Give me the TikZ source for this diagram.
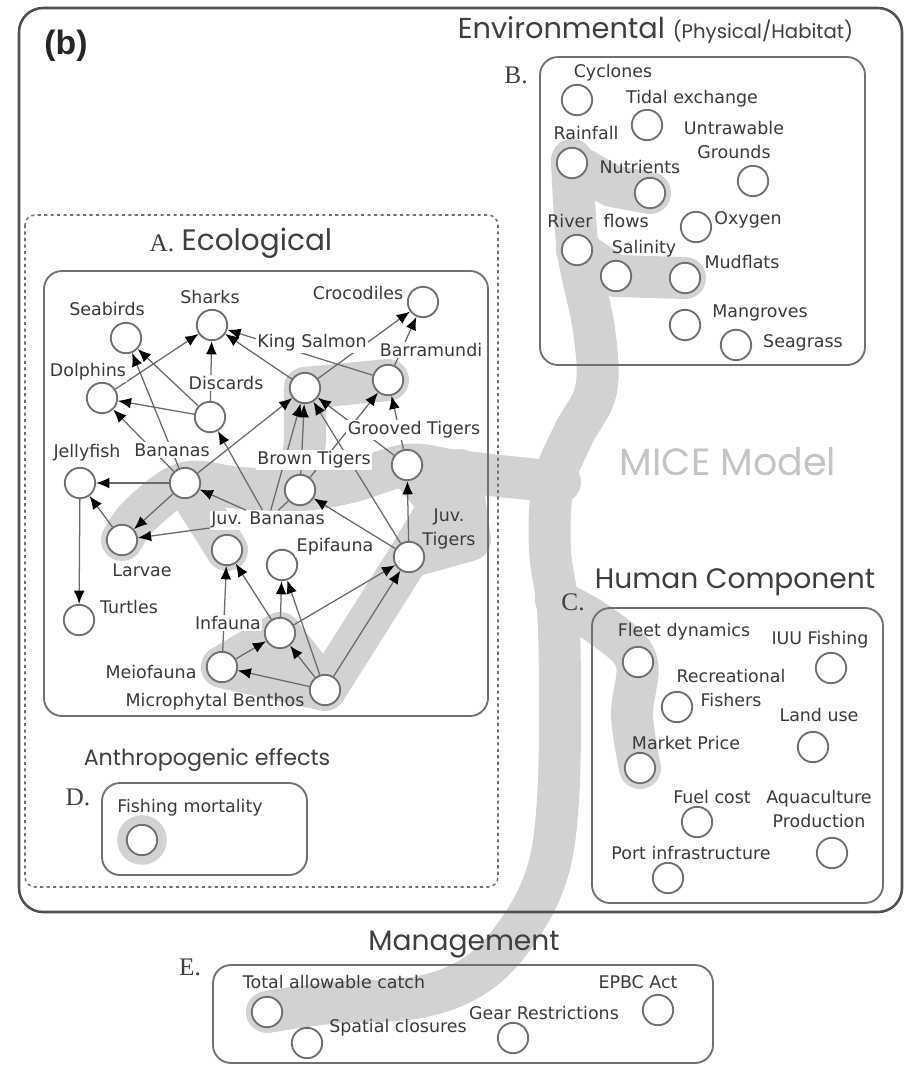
\documentclass[tikz,border=0pt]{standalone}
\usepackage{fontspec}
\setmainfont{DejaVu Sans}
\newfontfamily\headfont{Poppins}
\newfontfamily\letterfont{Liberation Serif}
\newfontfamily\panelfont{Liberation Sans}
\usetikzlibrary{arrows.meta}
\pgfdeclarelayer{band}
\pgfdeclarelayer{wires}
\pgfsetlayers{band,wires,main}
\definecolor{mcLine}{HTML}{707070}
\definecolor{mcFrame}{HTML}{505050}
\definecolor{mcEdge}{HTML}{6A6A6A}
\definecolor{mcBand}{HTML}{D2D2D2}
\definecolor{mcText}{HTML}{3A3A3A}
\definecolor{mcHead}{HTML}{3F3F3F}
\definecolor{mcGhost}{HTML}{C4C4C4}
\tikzset{
  sp/.style={circle, draw=mcLine, fill=white, line width=1.3pt, minimum size=0.76cm, inner sep=0pt},
  lab/.style={font=\fontsize{12.4}{17.5}\selectfont, text=mcText, inner sep=1pt, align=center},
  ecolab/.style={lab, fill=white},
  panel/.style={draw=mcLine, line width=1.3pt, rounded corners=0.45cm},
  head/.style={font=\headfont\fontsize{20}{22}\selectfont, text=mcHead},
  tagl/.style={font=\letterfont\fontsize{18}{20}\selectfont, text=mcHead},
  feed/.style={-{Latex[length=3.3mm,width=2.7mm,color=black]}, draw=mcEdge, line width=0.9pt},
  link/.style={draw=mcEdge, line width=0.9pt},
  band/.style={draw=mcBand, line width=1.05cm, line cap=round, line join=round}
}
\begin{document}
\begin{tikzpicture}[x=0.025cm, y=-0.025cm]
  \useasboundingbox (0,0) rectangle (908,1068);

  % frames
  \begin{pgfonlayer}{wires}
    \draw[draw=mcFrame, line width=1.8pt, rounded corners=0.6cm] (19,8) rectangle (902,912);
    \draw[draw=mcLine, line width=1.1pt, dash pattern=on 2.2pt off 2.4pt, rounded corners=0.25cm] (25,215) rectangle (498,887);
    \draw[panel] (44,271) rectangle (488,716);
    \draw[panel] (540,57) rectangle (865,365);
    \draw[panel] (592,608) rectangle (883,903);
    \draw[panel] (102,783) rectangle (307,875);
    \draw[panel] (213,965) rectangle (713,1063);
  \end{pgfonlayer}

  % headings
  \node[font=\panelfont\bfseries\fontsize{24}{26}\selectfont, text=black!85] (tagb) at (66,46) {(b)};
  \node[head, font=\headfont\fontsize{20.5}{22}\selectfont, anchor=east] (envT) at (858,30) {Environmental {\fontsize{14}{16}\selectfont (Physical/Habitat)}};
  \node[tagl] (tagB) at (516,75) {B.};
  \node[tagl] (tagA) at (162,243) {A.};
  \node[head, font=\headfont\fontsize{21}{23}\selectfont] (ecoT) at (257,243) {Ecological};
  \node[head] (humT) at (735,582) {Human Component};
  \node[tagl] (tagC) at (573,602) {C.};
  \node[head, font=\headfont\fontsize{15.8}{18}\selectfont] (antT) at (207,760) {Anthropogenic effects};
  \node[tagl] (tagD) at (78,797) {D.};
  \node[head] (mgtT) at (464,945) {Management};
  \node[tagl] (tagE) at (190,967) {E.};
  \node[font=\headfont\fontsize{27}{30}\selectfont, text=mcGhost] (mice) at (728,462) {MICE Model};

  % B. environmental
  \node[sp] (cyclones) at (577,100) {};
  \node[sp] (tidal) at (647,125) {};
  \node[sp] (grounds) at (753,181) {};
  \node[sp] (rainfall) at (572,163) {};
  \node[sp] (nutrients) at (650,193) {};
  \node[sp] (oxygen) at (696,227) {};
  \node[sp] (river) at (577,250) {};
  \node[sp] (salinity) at (616,276) {};
  \node[sp] (mudflats) at (685,278) {};
  \node[sp] (mangroves) at (685,325) {};
  \node[sp] (seagrass) at (736,345) {};
  \node[lab] (tcyclones) at (613,73) {Cyclones};
  \node[lab] (ttidal) at (692,99) {Tidal exchange};
  \node[lab] (tgrounds) at (734,140) {Untrawable\\Grounds};
  \node[lab] (trainfall) at (586,133) {Rainfall};
  \node[lab] (tnutrients) at (640,167) {Nutrients};
  \node[lab] (toxygen) at (748,220) {Oxygen};
  \node[lab] (triver) at (598,221) {River\ \ flows};
  \node[lab] (tsalinity) at (644,249) {Salinity};
  \node[lab] (tmudflats) at (742,262) {Mudflats};
  \node[lab] (tmangroves) at (760,313) {Mangroves};
  \node[lab] (tseagrass) at (803,343) {Seagrass};

  % A. ecological
  \node[sp] (sharks) at (212,325) {};
  \node[sp] (seabirds) at (126,338) {};
  \node[sp] (crocs) at (423,302) {};
  \node[sp] (kingsalmon) at (305,388) {};
  \node[sp] (barra) at (388,380) {};
  \node[sp] (dolphins) at (102,398) {};
  \node[sp] (discards) at (210,417) {};
  \node[sp] (grooved) at (407,465) {};
  \node[sp] (bananas) at (185,483) {};
  \node[sp] (jelly) at (80,483) {};
  \node[sp] (browntig) at (300,490) {};
  \node[sp] (larvae) at (122,540) {};
  \node[sp] (juvban) at (227,550) {};
  \node[sp] (epifauna) at (282,565) {};
  \node[sp] (juvtig) at (409,557) {};
  \node[sp] (turtles) at (79,620) {};
  \node[sp] (infauna) at (280,633) {};
  \node[sp] (meio) at (222,667) {};
  \node[sp] (microb) at (325,690) {};
  \node[ecolab] (tseabirds) at (107,309) {Seabirds};
  \node[ecolab] (tsharks) at (210,297) {Sharks};
  \node[ecolab] (tcrocs) at (358,293) {Crocodiles};
  \node[ecolab] (tkingsalmon) at (312,343) {King Salmon};
  \node[ecolab] (tbarra) at (431,350) {Barramundi};
  \node[ecolab] (tdolphins) at (88,372) {Dolphins};
  \node[ecolab] (tdiscards) at (226,383) {Discards};
  \node[ecolab] (tgrooved) at (414,430) {Grooved Tigers};
  \node[ecolab] (tjelly) at (87,453) {Jellyfish};
  \node[ecolab] (tbananas) at (172,450) {Bananas};
  \node[ecolab] (tbrowntig) at (314,460) {Brown Tigers};
  \node[ecolab] (tjuvban) at (268,520) {Juv. Bananas};
  \node[ecolab] (tepifauna) at (335,547) {Epifauna};
  \node[lab] (tjuvtig) at (449,529) {Juv.\\Tigers};
  \node[ecolab] (tlarvae) at (142,570) {Larvae};
  \node[ecolab] (tturtles) at (129,607) {Turtles};
  \node[ecolab] (tinfauna) at (228,623) {Infauna};
  \node[ecolab] (tmeio) at (151,672) {Meiofauna};
  \node[lab] (tmicrob) at (215,702) {Microphytal Benthos};

  % D. anthropogenic
  \node[sp] (fishmort) at (142,840) {};
  \node[lab] (tfishmort) at (190,808) {Fishing mortality};

  % C. human component
  \node[sp] (fleet) at (638,662) {};
  \node[sp] (iuu) at (831,668) {};
  \node[sp] (recfish) at (677,707) {};
  \node[sp] (landuse) at (813,747) {};
  \node[sp] (market) at (640,768) {};
  \node[sp] (fuel) at (697,822) {};
  \node[sp] (aqua) at (832,853) {};
  \node[sp] (port) at (668,878) {};
  \node[lab] (tfleet) at (684,632) {Fleet dynamics};
  \node[lab] (tiuu) at (820,640) {IUU Fishing};
  \node[lab] (trecfish) at (731,688) {Recreational\\Fishers};
  \node[lab] (tlanduse) at (819,715) {Land use};
  \node[lab] (tmarket) at (686,743) {Market Price};
  \node[lab] (tfuel) at (712,797) {Fuel cost};
  \node[lab] (taqua) at (819,809) {Aquaculture\\Production};
  \node[lab] (tport) at (691,853) {Port infrastructure};

  % E. management
  \node[sp] (tac) at (267,1012) {};
  \node[sp] (spatial) at (307,1043) {};
  \node[sp] (gear) at (513,1038) {};
  \node[sp] (epbc) at (658,1010) {};
  \node[lab] (ttac) at (334,982) {Total allowable catch};
  \node[lab] (tspatial) at (398,1028) {Spatial closures};
  \node[lab] (tgear) at (544,1013) {Gear Restrictions};
  \node[lab] (tepbc) at (638,982) {EPBC Act};

  % grey model backbone
  \begin{pgfonlayer}{band}
    \draw[band] plot[smooth, tension=0.6] coordinates {(572,160) (578,250) (594,330) (596,390) (573,435) (553,485) (550,550) (558,610) (560,700) (558,800) (548,870) (522,925) (480,972) (420,997) (330,1003) (267,1012)};
    \draw[band] plot[smooth, tension=0.6] coordinates {(556,600) (600,625) (636,660) (632,715) (640,768)};
    \draw[band] (rainfall.center) -- (612,186) -- (nutrients.center);
    \draw[band] (river.center) -- (salinity.center) -- (mudflats.center);
    \draw[band] plot[smooth, tension=0.6] coordinates {(560,482) (500,476) (450,470) (407,465) (350,482) (300,490) (240,488) (185,483) (140,515) (122,540)};
    \draw[band] (bananas.center) -- (juvban.center);
    \draw[band] (grooved.center) -- (440,505) -- (juvtig.center) -- (microb.center) -- (infauna.center) -- (meio.center) -- (microb.center);
    \draw[band] (460,470) -- (470,540) -- (juvtig.center);
    \draw[band] (browntig.center) -- (305,440) -- (kingsalmon.center) -- (barra.center);
    \fill[mcBand] (fishmort) circle[radius=0.62cm];
  \end{pgfonlayer}

  % food web links
  \begin{pgfonlayer}{wires}
    \draw[feed] (dolphins) -- (sharks);
    \draw[feed] (discards) -- (sharks);
    \draw[feed] (kingsalmon) -- (sharks);
    \draw[feed] (barra) -- (sharks);
    \draw[feed] (kingsalmon) -- (crocs);
    \draw[feed] (barra) -- (crocs);
    \draw[feed] (bananas) -- (seabirds);
    \draw[feed] (discards) -- (seabirds);
    \draw[feed] (discards) -- (dolphins);
    \draw[feed] (bananas) -- (dolphins);
    \draw[feed] (bananas) -- (jelly);
    \draw[feed] (larvae) -- (jelly);
    \draw[feed] (jelly) -- (turtles);
    \draw[feed] (bananas) -- (larvae);
    \draw[feed] (tjuvban) -- (larvae);
    \draw[feed] (tjuvban) -- (bananas);
    \draw[feed] (tjuvban) -- (discards);
    \draw[feed] (tjuvban) -- (kingsalmon);
    \draw[feed] (bananas) -- (kingsalmon);
    \draw[feed] (browntig) -- (kingsalmon);
    \draw[feed] (juvtig) -- (kingsalmon);
    \draw[feed] (grooved) -- (kingsalmon);
    \draw[feed] (browntig) -- (barra);
    \draw[feed] (grooved) -- (barra);
    \draw[feed] (juvtig) -- (grooved);
    \draw[feed] (juvtig) -- (browntig);
    \draw[feed] (infauna) -- (juvtig);
    \draw[feed] (microb) -- (juvtig);
    \draw[feed] (infauna) -- (epifauna);
    \draw[feed] (microb) -- (epifauna);
    \draw[feed] (meio) -- (infauna);
    \draw[feed] (microb) -- (infauna);
    \draw[feed] (microb) -- (meio);
    \draw[feed] (meio) -- (juvban);
    \draw[feed] (infauna) -- (juvban);
    \draw[link] (browntig) -- (tjuvban);
  \end{pgfonlayer}
\end{tikzpicture}
\end{document}
